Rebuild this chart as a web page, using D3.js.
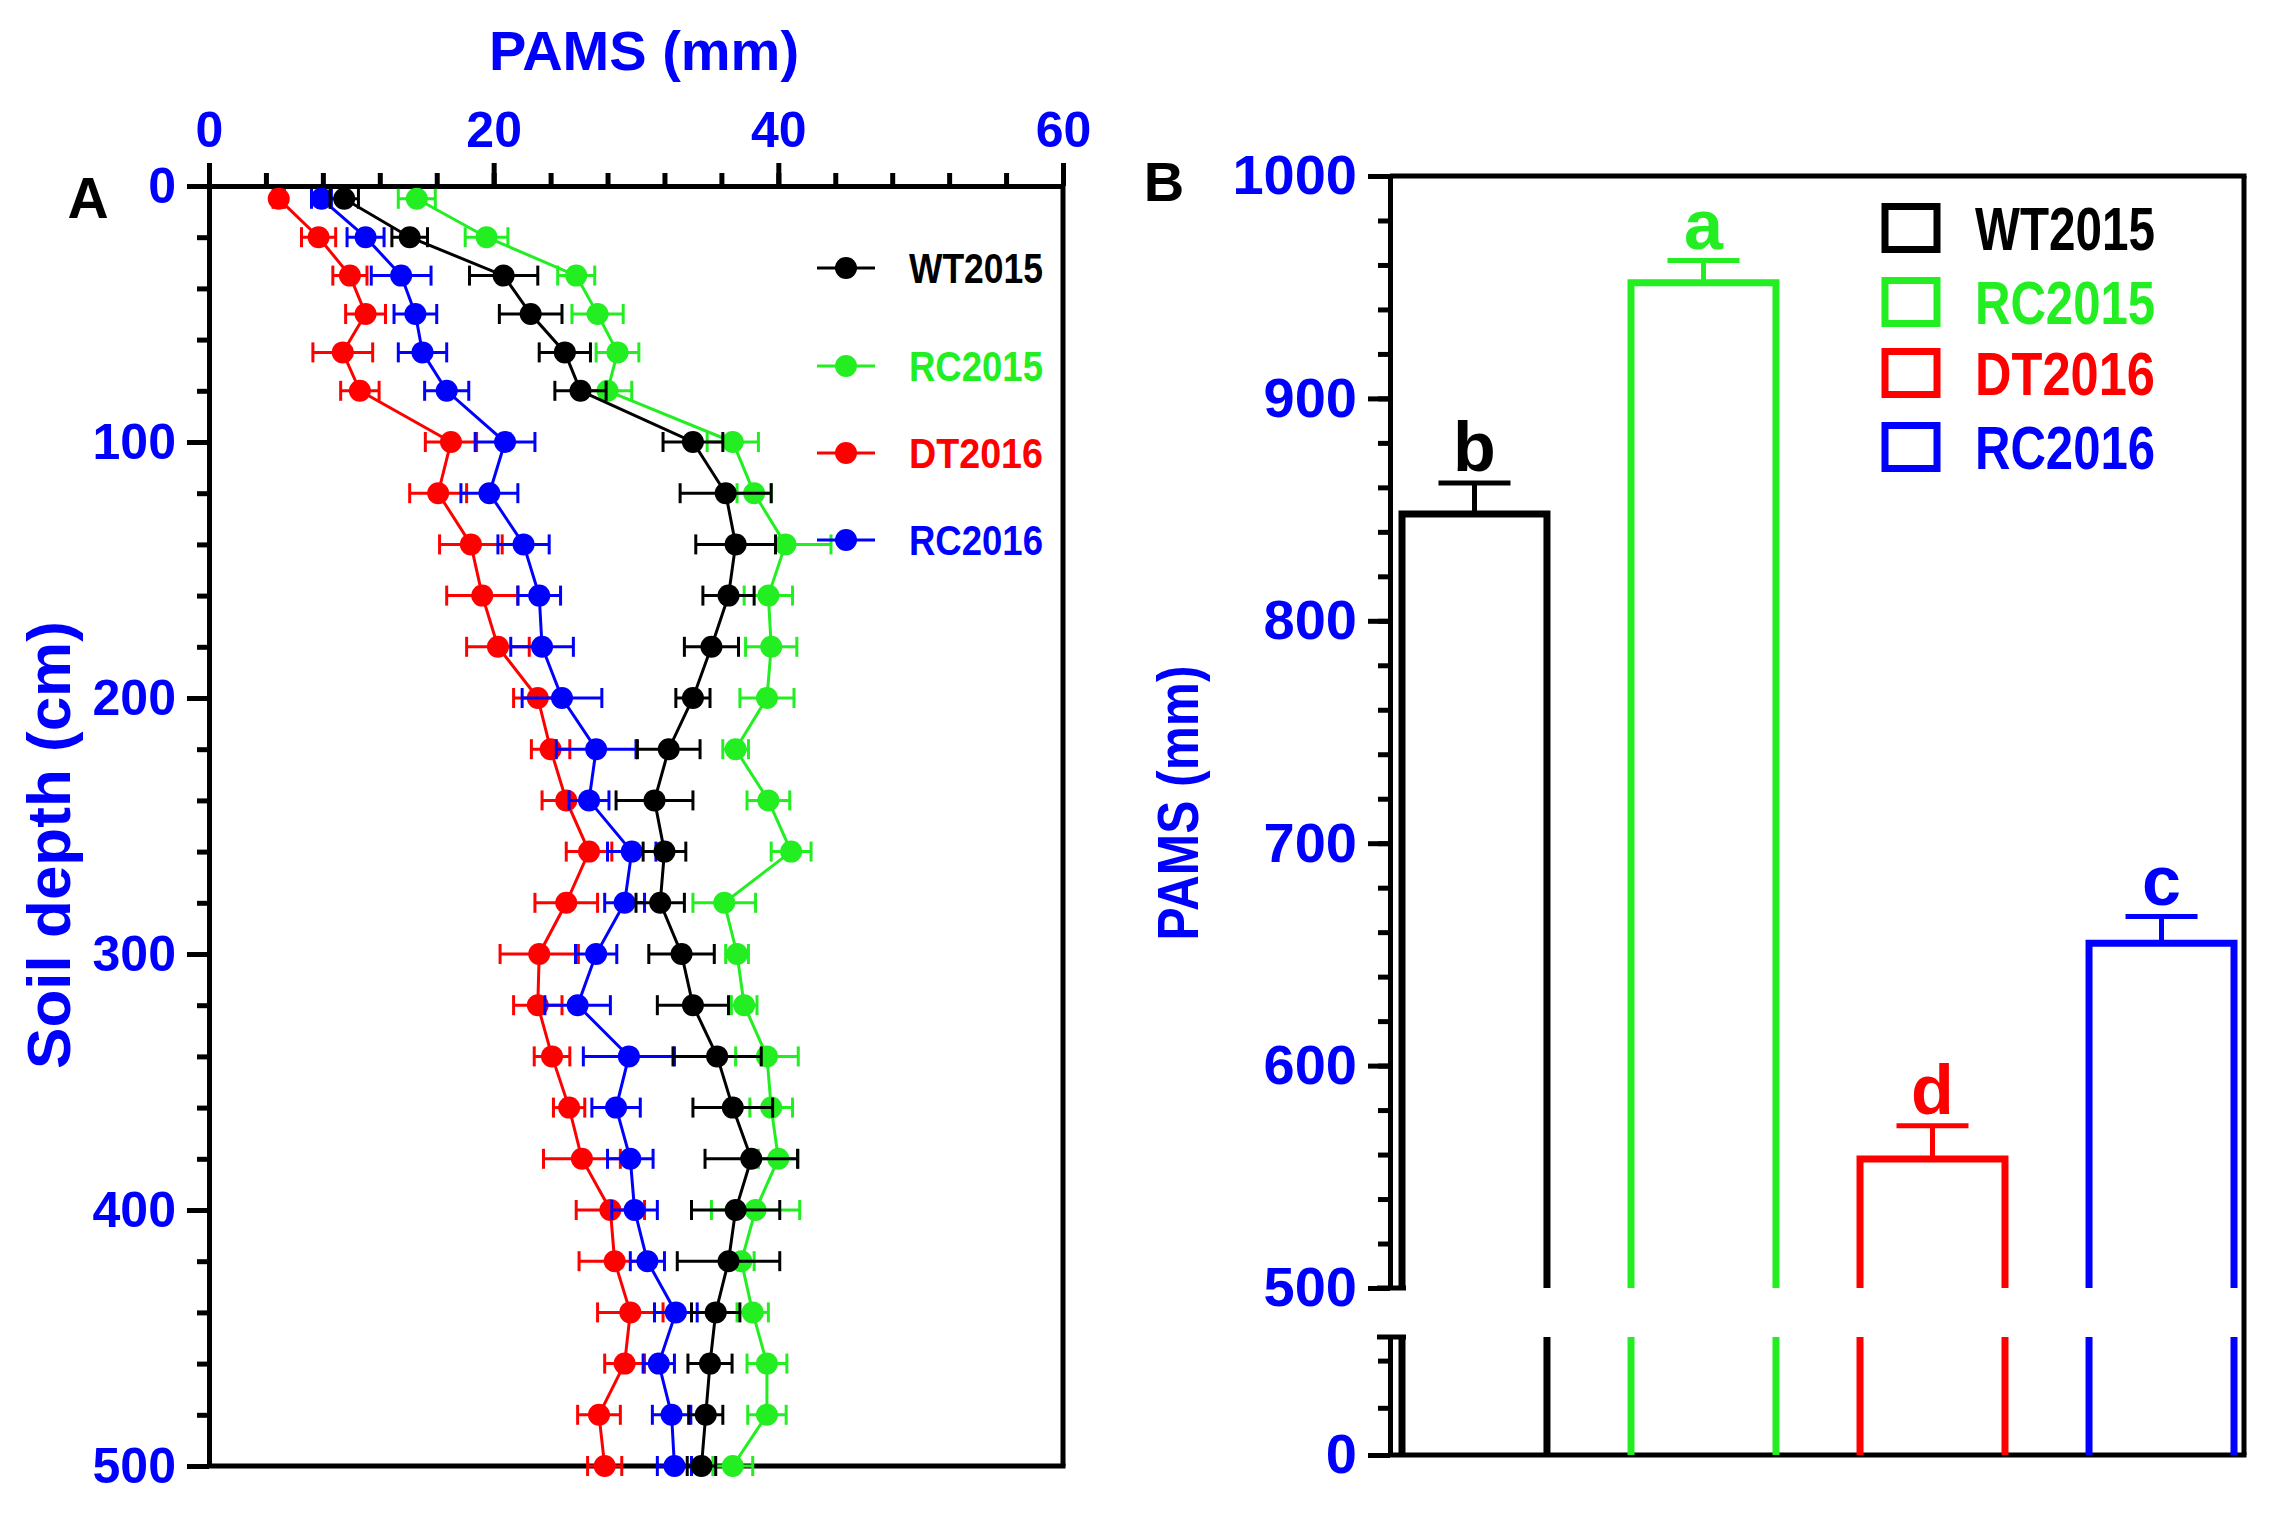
<!DOCTYPE html>
<html>
<head>
<meta charset="utf-8">
<script src="https://cdn.jsdelivr.net/npm/d3@7"></script>
<style>
  html, body { margin: 0; padding: 0; background: #fff; }
  svg { display: block; }
  text { font-family: "Liberation Sans", Arial, sans-serif; font-weight: bold; }
</style>
</head>
<body>
<svg id="chart" width="2277" height="1520"></svg>
<script>
// ---------------- DATA ----------------
const seriesNames = ["WT2015", "RC2015", "DT2016", "RC2016"];
const seriesColors = ["#000000", "#22ee22", "#ff0000", "#0000ff"];

// Panel A: soil depth (cm) and PAMS (mm)
const depths = [5, 20, 35, 50, 65, 80, 100, 120, 140, 160, 180, 200, 220, 240, 260, 280, 300, 320, 340, 360, 380, 400, 420, 440, 460, 480, 500];

const wt2015 = [9.5, 14.1, 20.7, 22.6, 25.0, 26.1, 34.0, 36.3, 37.0, 36.5, 35.3, 34.0, 32.3, 31.3, 32.0, 31.7, 33.2, 34.0, 35.7, 36.8, 38.1, 37.0, 36.5, 35.6, 35.2, 34.9, 34.6];
const wt2015Err = [1.0, 1.25, 2.4, 2.2, 1.8, 1.8, 2.1, 3.2, 2.8, 1.8, 1.9, 1.2, 2.2, 2.7, 1.5, 1.7, 2.3, 2.5, 3.1, 2.8, 3.25, 3.1, 3.6, 1.7, 1.55, 1.2, 1.0];

const rc2015 = [14.6, 19.5, 25.8, 27.3, 28.7, 28.0, 36.8, 38.3, 40.5, 39.3, 39.5, 39.2, 37.0, 39.3, 40.9, 36.2, 37.1, 37.6, 39.2, 39.5, 40.0, 38.4, 37.4, 38.2, 39.2, 39.2, 36.8];
const rc2015Err = [1.3, 1.5, 1.3, 1.8, 1.5, 1.7, 1.8, 1.2, 3.2, 1.7, 1.8, 1.9, 0.9, 1.5, 1.4, 2.2, 0.8, 0.9, 2.2, 1.5, 1.4, 3.1, 0.9, 1.1, 1.4, 1.35, 1.4];

const dt2016 = [4.9, 7.7, 9.9, 11.0, 9.4, 10.6, 17.0, 16.1, 18.4, 19.2, 20.3, 23.1, 24.0, 25.1, 26.7, 25.1, 23.2, 23.1, 24.1, 25.3, 26.2, 28.2, 28.5, 29.6, 29.2, 27.4, 27.8];
const dt2016Err = [0.4, 1.2, 1.2, 1.4, 2.1, 1.35, 1.8, 2.0, 2.2, 2.5, 2.2, 1.7, 1.35, 1.7, 1.6, 2.2, 2.75, 1.7, 1.25, 1.1, 2.7, 2.4, 2.5, 2.3, 1.4, 1.5, 1.2];

const rc2016 = [7.9, 11.0, 13.5, 14.5, 15.0, 16.7, 20.8, 19.7, 22.1, 23.2, 23.4, 24.8, 27.2, 26.7, 29.7, 29.2, 27.2, 25.9, 29.5, 28.6, 29.6, 29.9, 30.8, 32.8, 31.6, 32.5, 32.7];
const rc2016Err = [0.7, 1.3, 2.1, 1.5, 1.7, 1.55, 2.1, 2.0, 1.8, 1.5, 2.2, 2.8, 2.8, 1.4, 1.7, 1.4, 1.45, 2.3, 3.2, 1.7, 1.6, 1.6, 1.2, 1.5, 1.1, 1.35, 1.2];

const seriesA = [wt2015, rc2015, dt2016, rc2016];
const seriesAErr = [wt2015Err, rc2015Err, dt2016Err, rc2016Err];

const xTicksA = [0, 20, 40, 60];
const yTicksA = [0, 100, 200, 300, 400, 500];

// Panel B: total PAMS (mm)
const totals = [848, 952, 558, 655];
const totalsErr = [14, 10, 15, 12];
const sigLetters = ["b", "a", "d", "c"];
const yTicksBUpper = [500, 600, 700, 800, 900, 1000];
const yTicksBLower = [0];

// ---------------- DRAW ----------------
const svg = d3.select("#chart");
const BLUE = "#0000ff";
const fmt = d3.format("d");

function styleAxis(g, sw, fontSize) {
  g.attr("color", "#000");
  g.select(".domain").attr("stroke-width", sw);
  g.selectAll(".tick line").attr("stroke-width", sw);
  g.selectAll(".tick text").attr("fill", BLUE).style("font-size", fontSize + "px")
    .style("font-family", "'Liberation Sans', Arial, sans-serif").style("font-weight", "bold");
}

// ===== Panel A =====
const xA = d3.scaleLinear().domain([0, 60]).range([209, 1063]);
const yA = d3.scaleLinear().domain([0, 500]).range([186, 1466]);

const gA = svg.append("g");

// frame: right and bottom
gA.append("line").attr("x1", xA(60)).attr("x2", xA(60)).attr("y1", yA(0)).attr("y2", yA(500))
  .attr("stroke", "#000").attr("stroke-width", 5);
gA.append("line").attr("x1", xA(0)).attr("x2", xA(60) + 2.5).attr("y1", yA(500)).attr("y2", yA(500))
  .attr("stroke", "#000").attr("stroke-width", 5);

// minor ticks top
gA.append("g").attr("transform", `translate(0,${yA(0)})`)
  .call(d3.axisTop(xA).tickValues(d3.range(0, 61, 4)).tickSize(13).tickSizeOuter(0).tickFormat(""))
  .call(g => styleAxis(g, 5, 50));
// major ticks top
gA.append("g").attr("transform", `translate(0,${yA(0)})`)
  .call(d3.axisTop(xA).tickValues(xTicksA).tickSize(23).tickSizeOuter(0).tickPadding(16).tickFormat(fmt))
  .call(g => styleAxis(g, 5, 50));

// minor ticks left
gA.append("g").attr("transform", `translate(${xA(0)},0)`)
  .call(d3.axisLeft(yA).tickValues(d3.range(0, 501, 20)).tickSize(12).tickSizeOuter(0).tickFormat(""))
  .call(g => styleAxis(g, 5, 50));
gA.append("g").attr("transform", `translate(${xA(0)},0)`)
  .call(d3.axisLeft(yA).tickValues(yTicksA).tickSize(22).tickSizeOuter(0).tickPadding(11).tickFormat(fmt))
  .call(g => styleAxis(g, 5, 50));

// series (draw order: red, blue, green, black)
const drawOrder = [2, 3, 1, 0];
const line = d3.line().x(d => xA(d.v)).y(d => yA(d.d));
drawOrder.forEach(si => {
  const col = seriesColors[si];
  const pts = depths.map((d, i) => ({ d, v: seriesA[si][i], e: seriesAErr[si][i] }));
  const g = gA.append("g");
  g.append("path").datum(pts).attr("d", line).attr("fill", "none").attr("stroke", col).attr("stroke-width", 3);
  // error bars
  const eb = g.selectAll(".eb").data(pts).enter().append("g");
  eb.append("line").attr("x1", p => xA(p.v - p.e)).attr("x2", p => xA(p.v + p.e))
    .attr("y1", p => yA(p.d)).attr("y2", p => yA(p.d)).attr("stroke", col).attr("stroke-width", 3);
  eb.append("line").attr("x1", p => xA(p.v - p.e)).attr("x2", p => xA(p.v - p.e))
    .attr("y1", p => yA(p.d) - 10).attr("y2", p => yA(p.d) + 10).attr("stroke", col).attr("stroke-width", 3);
  eb.append("line").attr("x1", p => xA(p.v + p.e)).attr("x2", p => xA(p.v + p.e))
    .attr("y1", p => yA(p.d) - 10).attr("y2", p => yA(p.d) + 10).attr("stroke", col).attr("stroke-width", 3);
  g.selectAll(".pt").data(pts).enter().append("circle")
    .attr("cx", p => xA(p.v)).attr("cy", p => yA(p.d)).attr("r", 11).attr("fill", col);
});

// legend A
const legAY = [268, 366, 453, 540];
seriesNames.forEach((n, i) => {
  const col = seriesColors[i];
  gA.append("line").attr("x1", 817).attr("x2", 875).attr("y1", legAY[i]).attr("y2", legAY[i])
    .attr("stroke", col).attr("stroke-width", 3);
  gA.append("circle").attr("cx", 846).attr("cy", legAY[i]).attr("r", 11).attr("fill", col);
  gA.append("text").attr("x", 909).attr("y", legAY[i] + 15).text(n)
    .attr("fill", col).style("font-size", "42px")
    .attr("textLength", 134).attr("lengthAdjust", "spacingAndGlyphs");
});

// titles A
svg.append("text").attr("x", 644).attr("y", 70).attr("text-anchor", "middle")
  .attr("fill", BLUE).style("font-size", "56px").text("PAMS (mm)");
svg.append("text").attr("x", 88).attr("y", 218).attr("text-anchor", "middle")
  .attr("fill", "#000").style("font-size", "57px").text("A");
svg.append("text").attr("transform", "translate(70,845) rotate(-90)").attr("text-anchor", "middle")
  .attr("fill", BLUE).style("font-size", "62px").text("Soil depth (cm)");

// ===== Panel B =====
const xB = d3.scaleBand().domain(seriesNames).range([1402, 2234]).paddingInner(0.367).paddingOuter(0);
const yUp = d3.scaleLinear().domain([500, 1000]).range([1288, 176]);
const yLow = d3.scaleLinear().domain([0, 250]).range([1455, 1337]);
const axisXB = 1390;
const rightB = 2244;

const gB = svg.append("g");

// frame: top, right, bottom
gB.append("line").attr("x1", axisXB).attr("x2", rightB + 2.5).attr("y1", yUp(1000)).attr("y2", yUp(1000))
  .attr("stroke", "#000").attr("stroke-width", 5);
gB.append("line").attr("x1", rightB).attr("x2", rightB).attr("y1", yUp(1000)).attr("y2", yLow(0))
  .attr("stroke", "#000").attr("stroke-width", 5);
gB.append("line").attr("x1", axisXB).attr("x2", rightB + 2.5).attr("y1", yLow(0)).attr("y2", yLow(0))
  .attr("stroke", "#000").attr("stroke-width", 5);

// bars
totals.forEach((v, i) => {
  const col = seriesColors[i];
  const x0 = xB(seriesNames[i]), x1 = x0 + xB.bandwidth(), xc = x0 + xB.bandwidth() / 2;
  // upper segment: open at bottom
  gB.append("path").attr("d", `M${x0},${yUp(500)}V${yUp(v)}H${x1}V${yUp(500)}`)
    .attr("fill", "none").attr("stroke", col).attr("stroke-width", 7).attr("stroke-linejoin", "miter");
  // lower segment: sides only
  gB.append("line").attr("x1", x0).attr("x2", x0).attr("y1", yLow(250)).attr("y2", yLow(0))
    .attr("stroke", col).attr("stroke-width", 7);
  gB.append("line").attr("x1", x1).attr("x2", x1).attr("y1", yLow(250)).attr("y2", yLow(0))
    .attr("stroke", col).attr("stroke-width", 7);
  // error bar
  const top = yUp(v + totalsErr[i]);
  gB.append("line").attr("x1", xc).attr("x2", xc).attr("y1", yUp(v)).attr("y2", top)
    .attr("stroke", col).attr("stroke-width", 5);
  gB.append("line").attr("x1", xc - 36).attr("x2", xc + 36).attr("y1", top).attr("y2", top)
    .attr("stroke", col).attr("stroke-width", 5);
  gB.append("text").attr("x", xc).attr("y", top - 12).attr("text-anchor", "middle")
    .attr("fill", col).style("font-size", "70px").text(sigLetters[i]);
});

// axes B
gB.append("g").attr("transform", `translate(${axisXB},0)`)
  .call(d3.axisLeft(yUp).tickValues(d3.range(500, 1001, 20)).tickSize(12).tickSizeOuter(0).tickFormat(""))
  .call(g => styleAxis(g, 5, 56));
gB.append("g").attr("transform", `translate(${axisXB},0)`)
  .call(d3.axisLeft(yUp).tickValues(yTicksBUpper).tickSize(22).tickSizeOuter(0).tickPadding(11).tickFormat(fmt))
  .call(g => styleAxis(g, 5, 56));
gB.append("g").attr("transform", `translate(${axisXB},0)`)
  .call(d3.axisLeft(yLow).tickValues([100, 200]).tickSize(12).tickSizeOuter(0).tickFormat(""))
  .call(g => styleAxis(g, 5, 56));
gB.append("g").attr("transform", `translate(${axisXB},0)`)
  .call(d3.axisLeft(yLow).tickValues(yTicksBLower).tickSize(22).tickSizeOuter(0).tickPadding(11).tickFormat(fmt))
  .call(g => styleAxis(g, 5, 56));
// break caps
[yUp(500), yLow(250)].forEach(yy => {
  gB.append("line").attr("x1", axisXB - 13).attr("x2", axisXB + 16).attr("y1", yy).attr("y2", yy)
    .attr("stroke", "#000").attr("stroke-width", 5);
});

// legend B
const legBY = [228, 302, 373, 447];
seriesNames.forEach((n, i) => {
  const col = seriesColors[i];
  gB.append("rect").attr("x", 1885).attr("y", legBY[i] - 21.5).attr("width", 52).attr("height", 43)
    .attr("fill", "none").attr("stroke", col).attr("stroke-width", 7);
  gB.append("text").attr("x", 1975).attr("y", legBY[i] + 22).text(n)
    .attr("fill", col).style("font-size", "61px")
    .attr("textLength", 180).attr("lengthAdjust", "spacingAndGlyphs");
});

// titles B
svg.append("text").attr("x", 1164).attr("y", 201).attr("text-anchor", "middle")
  .attr("fill", "#000").style("font-size", "56px").text("B");
svg.append("text").attr("transform", "translate(1198,803) rotate(-90)").attr("text-anchor", "middle")
  .attr("fill", BLUE).style("font-size", "58px")
  .attr("textLength", 275).attr("lengthAdjust", "spacingAndGlyphs").text("PAMS (mm)");
</script>
</body>
</html>
